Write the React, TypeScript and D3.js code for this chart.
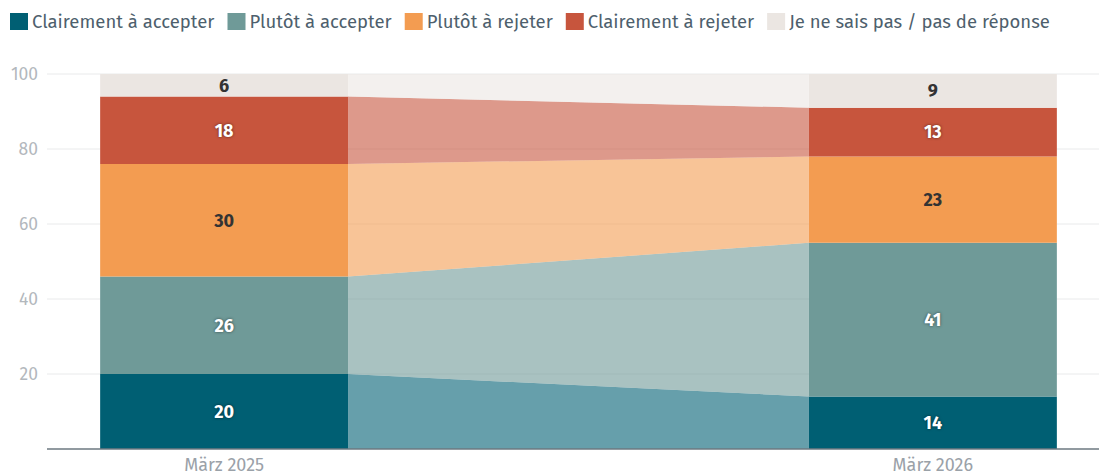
import React, { useEffect, useRef } from "react";
import * as d3 from "d3";

const categories = ["März 2025", "März 2026"];
const seriesNames = [
  "Clairement à accepter",
  "Plutôt à accepter",
  "Plutôt à rejeter",
  "Clairement à rejeter",
  "Je ne sais pas / pas de réponse",
];
const clairementAccepter = [20, 14];
const plutotAccepter = [26, 41];
const plutotRejeter = [30, 23];
const clairementRejeter = [18, 13];
const neSaisPas = [6, 9];
const seriesColors = ["#005f73", "#6f9a98", "#f39c51", "#c7553d", "#ebe6e2"];
const labelColors = ["#ffffff", "#ffffff", "#333333", "#ffffff", "#333333"];
const yTicks = [20, 40, 60, 80, 100];

const W = 1099;
const H = 475;
const FONT = "'Fira Sans', 'Open Sans', sans-serif";

export default function App() {
  const ref = useRef<SVGSVGElement>(null);
  useEffect(() => {
    const svg = d3.select(ref.current);
    svg.selectAll("*").remove();
    const seriesValues = [clairementAccepter, plutotAccepter, plutotRejeter, clairementRejeter, neSaisPas];
    const rows = categories.map((c, i) => {
      const r: any = { cat: c };
      seriesNames.forEach((s, k) => (r[s] = seriesValues[k][i]));
      return r;
    });
    const stacked = d3.stack().keys(seriesNames)(rows);

    const left = 47;
    const x = d3.scaleBand().domain(categories).range([left, 1110]).paddingInner(0.65).paddingOuter(0.075);
    const y = d3.scaleLinear().domain([0, 100]).range([449, 74]);

    // gridlines
    svg.append("g").selectAll("line").data(yTicks).join("line")
      .attr("x1", left).attr("x2", W).attr("y1", (d) => y(d)).attr("y2", (d) => y(d))
      .attr("stroke", "#e9eaeb").attr("stroke-width", 1);
    svg.append("g").selectAll("text").data(yTicks).join("text")
      .attr("x", 38).attr("y", (d) => y(d)).attr("dy", "0.35em").attr("text-anchor", "end")
      .attr("font-family", FONT).attr("font-size", 17.5).attr("fill", "#b3b8bd").text((d) => d);

    const bw = x.bandwidth();
    // connectors
    stacked.forEach((s, k) => {
      const a = s[0], b = s[1];
      const x0 = x(categories[0])! + bw, x1 = x(categories[1])!;
      const pts: [number, number][] = [[x0, y(a[1])], [x1, y(b[1])], [x1, y(b[0])], [x0, y(a[0])]];
      svg.append("path").attr("d", "M" + pts.map((p) => p.join(",")).join("L") + "Z")
        .attr("fill", seriesColors[k]).attr("fill-opacity", 0.6);
    });
    // bars
    stacked.forEach((s, k) => {
      svg.append("g").selectAll("rect").data(s).join("rect")
        .attr("x", (d: any) => x(d.data.cat)!).attr("width", bw)
        .attr("y", (d) => y(d[1])).attr("height", (d) => y(d[0]) - y(d[1]))
        .attr("fill", seriesColors[k]);
    });
    // labels
    stacked.forEach((s, k) => {
      svg.append("g").selectAll("text").data(s).join("text")
        .attr("x", (d: any) => x(d.data.cat)! + bw / 2)
        .attr("y", (d) => (y(d[0]) + y(d[1])) / 2).attr("dy", "0.35em")
        .attr("text-anchor", "middle").attr("font-family", FONT).attr("font-weight", "bold")
        .attr("font-size", 18).attr("fill", labelColors[k])
        .style("text-shadow", labelColors[k] === "#ffffff" ? "0 0 3px rgba(0,0,0,0.55)" : "none")
        .text((d) => d[1] - d[0]);
    });
    // baseline
    svg.append("line").attr("x1", left).attr("x2", W).attr("y1", y(0)).attr("y2", y(0))
      .attr("stroke", "#6d7880").attr("stroke-width", 1.5);
    // x labels
    svg.append("g").selectAll("text").data(categories).join("text")
      .attr("x", (d) => x(d)! + bw / 2).attr("y", 465).attr("dy", "0.35em").attr("text-anchor", "middle")
      .attr("font-family", FONT).attr("font-size", 18).attr("fill", "#9aa1a8").text((d) => d);

    // legend
    const lg = svg.append("g");
    let cx = 10;
    seriesNames.forEach((n, k) => {
      lg.append("rect").attr("x", cx).attr("y", 13).attr("width", 18).attr("height", 17)
        .attr("fill", seriesColors[k]);
      const t = lg.append("text").attr("x", cx + 22).attr("y", 21.5).attr("dy", "0.35em")
        .attr("font-family", FONT).attr("font-size", 18.5).attr("fill", "#4e5f6d").text(n);
      const w = (t.node() as SVGTextElement).getComputedTextLength();
      cx += 22 + w + 13;
    });
  }, []);
  return <svg ref={ref} width={W} height={H} style={{ display: "block", position: "absolute", left: 0, top: 0 }} />;
}
